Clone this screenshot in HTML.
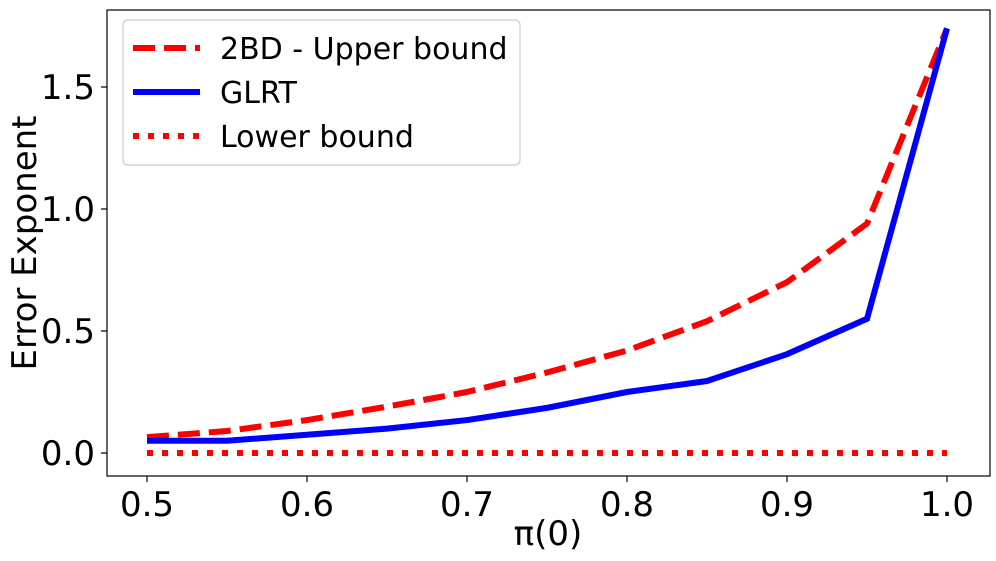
<!DOCTYPE html>
<html><head><meta charset="utf-8"><style>
body{margin:0;background:#fff;}
svg{display:block;font-family:"DejaVu Sans","Liberation Sans",sans-serif;}
</style></head><body>
<svg id="chart" width="996" height="561">
<g id="marks"></g>
<g id="axes"></g>
</svg>
<script>
const xValues=[0.5,0.55,0.6,0.65,0.7,0.75,0.8,0.85,0.9,0.95,1.0];
const upperBound=[0.065,0.09,0.135,0.19,0.25,0.33,0.42,0.54,0.70,0.94,1.74];
const glrt=[0.05,0.05,0.075,0.10,0.135,0.185,0.25,0.295,0.405,0.55,1.74];
const lowerBound=[0,0,0,0,0,0,0,0,0,0,0];
const xTicks=[0.5,0.6,0.7,0.8,0.9,1.0];
const xTickLabels=["0.5","0.6","0.7","0.8","0.9","1.0"];
const yTicks=[0,0.5,1.0,1.5];
const yTickLabels=["0.0","0.5","1.0","1.5"];

const NS="http://www.w3.org/2000/svg";
const L=107,R=990,T=10,B=476;
const sx=v=>147+(v-0.5)*1600;
const sy=v=>453-v*244;
function mk(tag,attrs,parent,text){const e=document.createElementNS(NS,tag);for(const k in attrs)e.setAttribute(k,attrs[k]);if(text!==undefined)e.textContent=text;parent.appendChild(e);return e;}
const marks=document.getElementById('marks'),axes=document.getElementById('axes');

function line(ys,color,dash,name){
  const d=xValues.map((x,i)=>(i?'L':'M')+sx(x)+','+sy(ys[i])).join(' ');
  const p=mk('path',{d:d,fill:'none',stroke:color,'stroke-width':6,'stroke-dasharray':dash,'stroke-linejoin':'miter'},marks);
  
  
}
line(lowerBound,'#ff0000','6,9','lower-bound-line');
line(upperBound,'#ff0000','22,9','upper-bound-line');
line(glrt,'#0000ff','none','glrt-line');

const frame=mk('rect',{x:L,y:T,width:R-L,height:B-T,fill:'none',stroke:'#000','stroke-width':1.2},axes);


xTicks.forEach((v,i)=>{
  mk('line',{x1:sx(v),x2:sx(v),y1:B,y2:B+6,stroke:'#000','stroke-width':1.2},axes);
  const t=mk('text',{x:sx(v),y:B+40,'text-anchor':'middle','font-size':34},axes,xTickLabels[i]);
  
  
});
yTicks.forEach((v,i)=>{
  mk('line',{x1:L-6,x2:L,y1:sy(v),y2:sy(v),stroke:'#000','stroke-width':1.2},axes);
  const t=mk('text',{x:L-12,y:sy(v)+12,'text-anchor':'end','font-size':34},axes,yTickLabels[i]);
  
  
});
const xt=mk('text',{x:548,y:545,'text-anchor':'middle','font-size':34},axes,'π(0)');


const yt=mk('text',{x:36,y:243,'text-anchor':'middle','font-size':34,transform:'rotate(-90 36 243)'},axes,'Error Exponent');



const lg=mk('g',{},axes);


mk('rect',{x:123,y:20,width:397,height:145,rx:5,fill:'#fff','fill-opacity':0.8,stroke:'#ccc','stroke-width':1.2},lg);
const entries=[['2BD - Upper bound','#ff0000','22,9',48],['GLRT','#0000ff','none',92],['Lower bound','#ff0000','6,9',136]];
entries.forEach(e=>{
  const g=mk('g',{},lg);
  
  
  mk('line',{x1:133,x2:200,y1:e[3],y2:e[3],stroke:e[1],'stroke-width':6,'stroke-dasharray':e[2]},g);
  mk('text',{x:220,y:e[3]+11,'font-size':30},g,e[0]);
});
</script>
</body></html>
